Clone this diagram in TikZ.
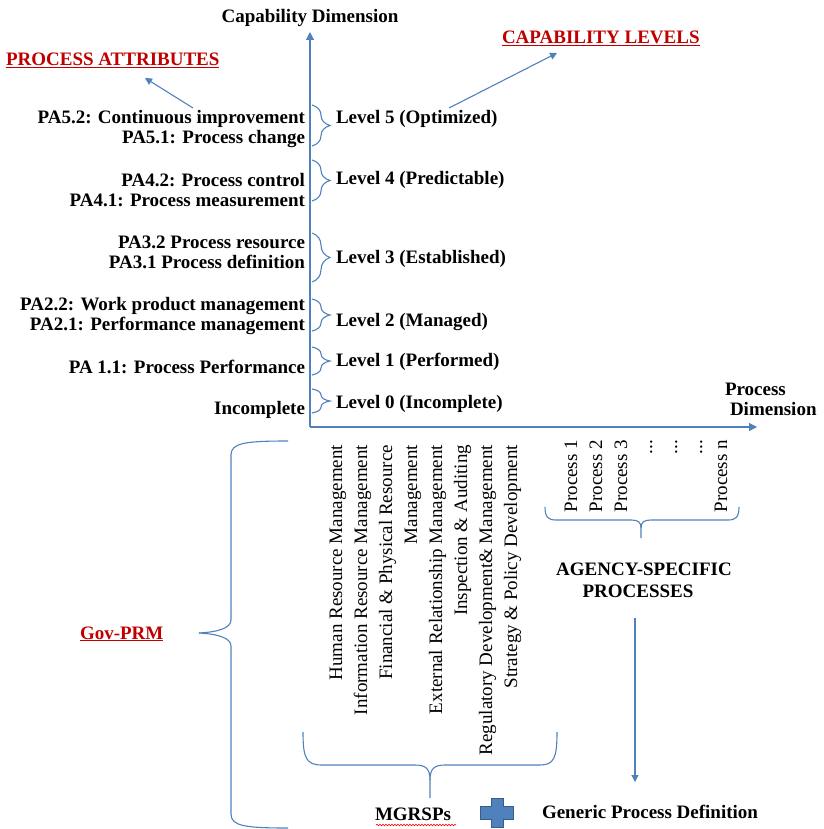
\documentclass[tikz,border=0pt]{standalone}
\usepackage{fontspec}
\setmainfont{Liberation Serif}
\usetikzlibrary{arrows.meta,decorations.pathreplacing,decorations.pathmorphing}
\definecolor{axisblue}{RGB}{79,129,189}
\definecolor{plusedge}{RGB}{56,93,138}
\definecolor{labelred}{RGB}{192,0,0}
\begin{document}
\begin{tikzpicture}[x=1pt,y=-1pt,
  every node/.style={inner sep=0pt, outer sep=0pt},
  lbl/.style={font=\fontsize{19}{20}\selectfont\bfseries},
  pal/.style={lbl, anchor=base east},
  lvl/.style={lbl, anchor=base west},
  rlbl/.style={font=\fontsize{19}{20}\selectfont, rotate=90, anchor=base east},
  redlbl/.style={lbl, text=labelred},
  blueline/.style={draw=axisblue, line width=1.1pt},
  axisarrow/.style={blueline, -{Triangle[width=8pt,length=8pt]}},
  thinarrow/.style={draw=axisblue, line width=1.1pt, -{Triangle[width=7pt,length=7pt]}},
  levelbrace/.style={blueline, decorate, decoration={brace, amplitude=18pt}},
  bigbrace/.style={blueline, line join=round}
]
\useasboundingbox (0,0) rectangle (823,829);

% axes
\coordinate (origin) at (310,427);
\coordinate (ytip) at (310,32);
\coordinate (xtip) at (757,427);
\draw[axisarrow] (origin) -- (ytip);
\draw[axisarrow] (origin) -- (xtip);
\node[lbl, anchor=base] (capdim) at (310,23) {Capability Dimension};
\node[lbl, anchor=base west] (procdim1) at (725,395) {Process};
\node[lbl, anchor=base west] (procdim2) at (730,415) {Dimension};

% headings with pointers
\node[redlbl, anchor=base west] (pahead) at (6,66) {\underline{PROCESS ATTRIBUTES}};
\node[redlbl, anchor=base west] (clhead) at (502,44) {\underline{CAPABILITY LEVELS}};
\coordinate (paFrom) at (193,108);
\coordinate (paTo) at (145,78);
\coordinate (clFrom) at (449,108);
\coordinate (clTo) at (557,53);
\draw[thinarrow] (paFrom) -- (paTo);
\draw[thinarrow] (clFrom) -- (clTo);

% process attributes
\node[pal] (pa52) at (305,124) {PA5.2: Continuous improvement};
\node[pal] (pa51) at (305,144) {PA5.1: Process change};
\node[pal] (pa42) at (305,186) {PA4.2: Process control};
\node[pal] (pa41) at (305,206) {PA4.1: Process measurement};
\node[pal] (pa32) at (305,248) {PA3.2 Process resource};
\node[pal] (pa31) at (305,268) {PA3.1 Process definition};
\node[pal] (pa22) at (305,310) {PA2.2: Work product management};
\node[pal] (pa21) at (305,330) {PA2.1: Performance management};
\node[pal] (pa11) at (305,373) {PA 1.1: Process Performance};
\node[pal] (pa00) at (305,414) {Incomplete};

% level braces
\draw[levelbrace] (312,105) -- (312,146);
\draw[levelbrace] (312,160) -- (312,201);
\draw[levelbrace] (312,233) -- (312,282);
\draw[levelbrace] (312,299) -- (312,331);
\draw[levelbrace] (312,347) -- (312,375);
\draw[levelbrace] (312,389) -- (312,413);

% capability levels
\node[lvl] (lv5) at (336,124) {Level 5 (Optimized)};
\node[lvl] (lv4) at (336,184) {Level 4 (Predictable)};
\node[lvl] (lv3) at (336,263) {Level 3 (Established)};
\node[lvl] (lv2) at (336,326) {Level 2 (Managed)};
\node[lvl] (lv1) at (336,366) {Level 1 (Performed)};
\node[lvl] (lv0) at (336,408) {Level 0 (Incomplete)};

% mission/government-wide processes
\node[rlbl] (hrm) at (342,445) {Human Resource Management};
\node[rlbl] (irm) at (367,445) {Information Resource Management};
\node[rlbl] (fpr) at (392,445) {Financial \& Physical Resource};
\node[rlbl] (fprm) at (417,445) {Management};
\node[rlbl] (erm) at (442,445) {External Relationship Management};
\node[rlbl] (ina) at (467,445) {Inspection \& Auditing};
\node[rlbl] (rdm) at (492,445) {Regulatory Development\& Management};
\node[rlbl] (spd) at (517,445) {Strategy \& Policy Development};

% agency-specific processes
\node[rlbl] (p1) at (577,440) {Process 1};
\node[rlbl] (p2) at (602,440) {Process 2};
\node[rlbl] (p3) at (627,440) {Process 3};
\node[rlbl] (d1) at (652,440) {...};
\node[rlbl] (d2) at (677,440) {...};
\node[rlbl] (d3) at (702,440) {...};
\node[rlbl] (pn) at (727,440) {Process n};

% brace under agency-specific processes
\draw[bigbrace] (545,507) .. controls (545,517) and (548,520) .. (556,520) -- (631,520)
  .. controls (638,520) and (641,522) .. (641,528) -- (641,538);
\draw[bigbrace] (641,528) .. controls (641,522) and (644,520) .. (651,520) -- (728,520)
  .. controls (736,520) and (739,517) .. (739,507);
\node[lbl, anchor=base] (as1) at (644,575) {AGENCY-SPECIFIC};
\node[lbl, anchor=base] (as2) at (638,597) {PROCESSES};
\coordinate (asFrom) at (635,618);
\coordinate (asTo) at (635,782);
\draw[thinarrow] (asFrom) -- (asTo);

% brace under the MGRSPs
\draw[bigbrace] (303,732) .. controls (303,758) and (306,765) .. (322,765) -- (415,765)
  .. controls (426,765) and (430,769) .. (430,780) -- (430,798);
\draw[bigbrace] (430,780) .. controls (430,769) and (434,765) .. (445,765) -- (540,765)
  .. controls (554,765) and (557,758) .. (557,732);

% bottom line
\node[lbl, anchor=base west] (mgrsp) at (375,820) {MGRSPs};
\draw[red, line width=0.6pt, decorate, decoration={snake, amplitude=0.8pt, segment length=3pt}]
  (376,825) -- (456,825);
\draw[plusedge, fill=axisblue, line width=1pt] (491,798) -- (503,798) -- (503,806) -- (513,806)
  -- (513,819) -- (503,819) -- (503,827) -- (491,827) -- (491,819) -- (480,819)
  -- (480,806) -- (491,806) -- cycle;
\node[lbl, anchor=base west] (gpd) at (542,818) {Generic Process Definition};

% Gov-PRM brace
\draw[bigbrace] (288,441) .. controls (245,441) and (231,443) .. (231,455) -- (231,620)
  .. controls (231,628) and (218,632) .. (199,633);
\draw[bigbrace] (199,633) .. controls (218,634) and (231,638) .. (231,646) -- (231,814)
  .. controls (231,826) and (245,828) .. (288,828);
\node[redlbl, anchor=base west] (govprm) at (80,639) {\underline{Gov-PRM}};
\end{tikzpicture}
\end{document}
